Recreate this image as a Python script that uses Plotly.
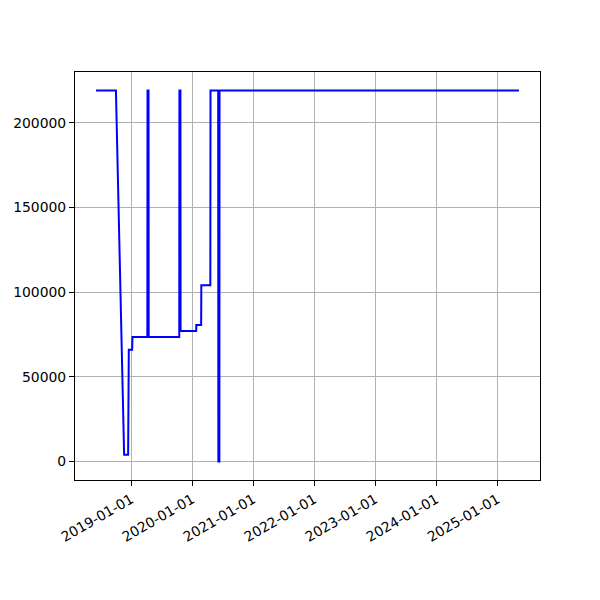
import plotly.graph_objects as go

dates = [
    "2018-06-05", "2018-10-02", "2018-11-20", "2018-12-14", "2018-12-18",
    "2019-01-07", "2019-01-09", "2019-04-08", "2019-04-09", "2019-04-15",
    "2019-04-16", "2019-10-16", "2019-10-17", "2019-10-23", "2019-10-24",
    "2020-01-25", "2020-01-26", "2020-02-24", "2020-02-25", "2020-04-19",
    "2020-04-20", "2020-06-05", "2020-06-06", "2020-06-12", "2020-06-13",
    "2025-05-10",
]
values = [
    219000, 219000, 4000, 4000, 66000,
    66000, 73500, 73500, 219000, 219000,
    73500, 73500, 219000, 219000, 77000,
    77000, 80500, 80500, 104000, 104000,
    219000, 219000, 0, 0, 219000,
    219000,
]
tick_vals = ["2019-01-01", "2020-01-01", "2021-01-01", "2022-01-01",
             "2023-01-01", "2024-01-01", "2025-01-01"]
y_ticks = [0, 50000, 100000, 150000, 200000]

fig = go.Figure(go.Scatter(x=dates, y=values, mode="lines",
                           line=dict(color="blue", width=2)))

axis_common = dict(showline=True, mirror=True, linecolor="black", linewidth=1.1,
                   ticks="outside", ticklen=5, tickwidth=1.1, tickcolor="black",
                   showgrid=True, gridcolor="#b0b0b0", gridwidth=1.1,
                   zeroline=False, automargin=False,
                   tickfont=dict(family="DejaVu Sans", size=13.9, color="black"))

fig.update_xaxes(range=["2018-01-30", "2025-09-13"], tickvals=tick_vals,
                 ticktext=tick_vals, tickangle=-30, **axis_common)
fig.update_yaxes(range=[-10950, 229950], tickvals=y_ticks,
                 ticktext=[str(v) for v in y_ticks], **axis_common)

fig.update_layout(width=600, height=600, margin=dict(l=67, r=68, t=64, b=128),
                  plot_bgcolor="white", paper_bgcolor="white", showlegend=False)

fig.write_html("out.html")
